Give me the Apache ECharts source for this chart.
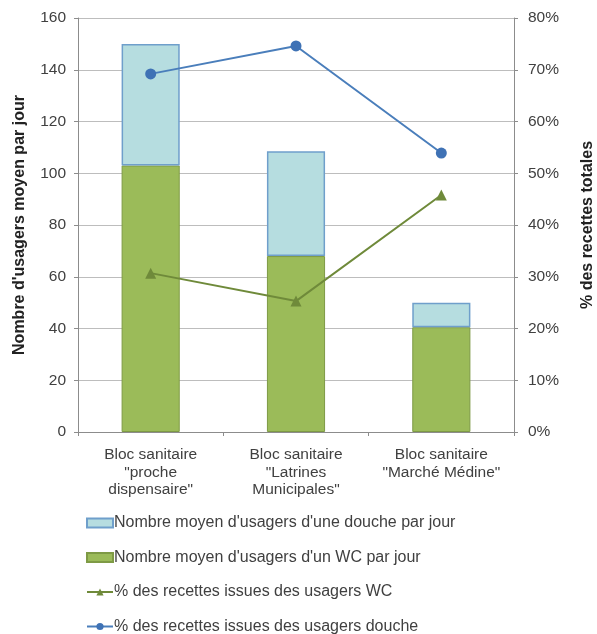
<!DOCTYPE html>
<html>
<head>
<meta charset="utf-8">
<script src="https://cdn.jsdelivr.net/npm/echarts@6/dist/echarts.min.js"></script>
<style>
html, body { margin: 0; padding: 0; background: #fff; }
#chart { width: 597px; height: 634px; }
</style>
</head>
<body>
<div id="chart"></div>
<script>
var categories = ['Bloc sanitaire\n"proche\ndispensaire"', 'Bloc sanitaire\n"Latrines\nMunicipales"', 'Bloc sanitaire\n"Marché Médine"'];
var wcUsers = [103, 68, 40.5];
var doucheUsers = [47, 40.5, 9.5];
var pctWC = [30.7, 25.3, 45.8];
var pctDouche = [69.2, 74.6, 53.9];

var names = {
	douche: "Nombre moyen d'usagers d'une douche par jour",
	wc: "Nombre moyen d'usagers d'un WC par jour",
	pwc: "% des recettes issues des usagers WC",
	pdouche: "% des recettes issues des usagers douche"
};

window.onload = function() {
	var c = echarts.init(document.getElementById("chart"));
	var font = 'Liberation Sans, Arial, sans-serif';
	var txt = { fontFamily: font, color: '#404040', fontSize: 15.5 };
	var title = { fontFamily: font, color: '#222', fontSize: 16, fontWeight: 'bold' };
	var e = {
		animation: false,
		textStyle: { fontFamily: font },
		grid: { left: 78, right: 83, top: 18, bottom: 202, outerBoundsMode: 'none', containLabel: false },
		legend: {
			orient: 'vertical',
			left: 81,
			top: 510,
			height: 130,
			itemGap: 18.5,
			itemWidth: 26,
			itemHeight: 9,
			textStyle: { fontFamily: font, color: '#404040', fontSize: 16, padding: [0, 0, 0, -4] },
			data: [
				{ name: names.douche, icon: 'rect' },
				{ name: names.wc, icon: 'rect' },
				{ name: names.pwc },
				{ name: names.pdouche }
			]
		},
		xAxis: {
			type: 'category',
			data: categories,
			axisLine: { lineStyle: { color: '#8c8c8c' } },
			axisTick: { show: true, interval: 0, length: 4, lineStyle: { color: '#8c8c8c' } },
			axisLabel: Object.assign({ interval: 0, margin: 14, lineHeight: 17.5 }, txt)
		},
		yAxis: [{
			type: 'value',
			min: 0, max: 160, interval: 20,
			name: "Nombre d'usagers moyen par jour",
			nameLocation: 'middle',
			nameRotate: 90,
			nameGap: 50,
			nameTextStyle: title,
			axisLine: { show: true, lineStyle: { color: '#8c8c8c' } },
			axisTick: { show: true, length: 4, lineStyle: { color: '#8c8c8c' } },
			axisLabel: Object.assign({ margin: 12 }, txt),
			splitLine: { lineStyle: { color: '#bdbdbd' } }
		}, {
			type: 'value',
			min: 0, max: 80, interval: 10,
			position: 'right',
			name: '% des recettes totales',
			nameLocation: 'middle',
			nameRotate: 90,
			nameGap: 66,
			nameTextStyle: title,
			axisLine: { show: true, lineStyle: { color: '#8c8c8c' } },
			axisTick: { show: true, length: 4, lineStyle: { color: '#8c8c8c' } },
			axisLabel: Object.assign({ margin: 14, formatter: '{value}%' }, txt),
			splitLine: { show: false }
		}],
		series: [{
			name: names.wc,
			type: 'bar',
			stack: 'u',
			barWidth: '40%',
			data: wcUsers,
			itemStyle: { color: '#9bbb59', borderColor: '#7e9a45', borderWidth: 1 }
		}, {
			name: names.douche,
			type: 'bar',
			stack: 'u',
			data: doucheUsers,
			itemStyle: { color: '#b6dde0', borderColor: '#6f9fcb', borderWidth: 1.5 }
		}, {
			name: names.pwc,
			type: 'line',
			yAxisIndex: 1,
			data: pctWC,
			symbol: 'triangle',
			symbolSize: 11,
			lineStyle: { color: '#6f8a3a', width: 2 },
			itemStyle: { color: '#6f8a3a' }
		}, {
			name: names.pdouche,
			type: 'line',
			yAxisIndex: 1,
			data: pctDouche,
			symbol: 'circle',
			symbolSize: 11,
			lineStyle: { color: '#4a7ebb', width: 2 },
			itemStyle: { color: '#3f72b5' }
		}]
	};
	c.setOption(e);
};
</script>
</body>
</html>
